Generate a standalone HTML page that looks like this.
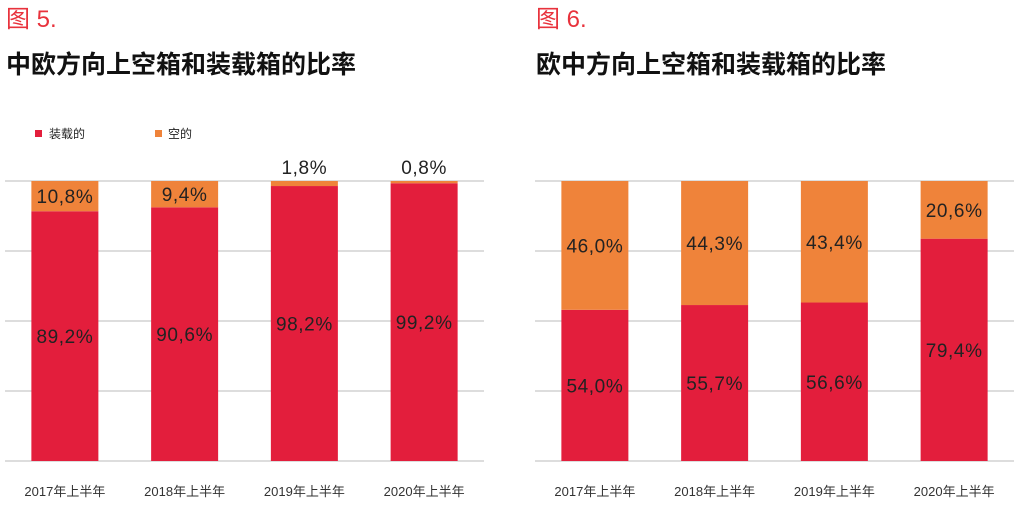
<!DOCTYPE html>
<html><head><meta charset="utf-8"><style>
body{margin:0;background:#fff;width:1022px;height:509px;overflow:hidden;font-family:"Liberation Sans","Noto Sans CJK SC",sans-serif}
svg text{font-family:"Liberation Sans","Noto Sans CJK SC",sans-serif}
</style></head><body>
<svg id="s" width="1022" height="509">
<text x="6" y="27" font-size="24" font-weight="normal" fill="#e8323c">图 5.</text>
<text x="6" y="73" font-size="25" font-weight="bold" fill="#111">中欧方向上空箱和装载箱的比率</text>
<text x="536" y="27" font-size="24" font-weight="normal" fill="#e8323c">图 6.</text>
<text x="536" y="73" font-size="25" font-weight="bold" fill="#111">欧中方向上空箱和装载箱的比率</text>
<g>
<rect x="35" y="130" width="7" height="7" fill="#e31e3c"/>
<text x="49" y="138" font-size="12" fill="#222">装载的</text>
<rect x="155" y="130" width="7" height="7" fill="#ef833a"/>
<text x="168" y="138" font-size="12" fill="#222">空的</text>
</g>
</svg>
<script>
const categories=["2017年上半年","2018年上半年","2019年上半年","2020年上半年"];
const loaded1=[89.2,90.6,98.2,99.2];
const empty1=[10.8,9.4,1.8,0.8];
const loaded2=[54.0,55.7,56.6,79.4];
const empty2=[46.0,44.3,43.4,20.6];
const NS="http://www.w3.org/2000/svg";
const svg=document.getElementById('s');
function mk(t,a){const e=document.createElementNS(NS,t);for(const k in a)e.setAttribute(k,a[k]);svg.appendChild(e);return e;}
const fmt=v=>v.toFixed(1).replace('.',',')+'%';
function chart(x0,x1,loaded,empty,id){
  const top=181,bot=461;
  const y=v=>bot-(v/100)*(bot-top);
  const step=(x1-x0)/categories.length;
  for(let i=0;i<=4;i++){
    const g=mk('line',{x1:x0,x2:x1,y1:y(i*25),y2:y(i*25),stroke:'#ddd','stroke-width':2});
    
    
  }
  categories.forEach((c,i)=>{
    const cx=x0+step*(i+0.5),bw=67,bx=cx-bw/2;
    const r=mk('rect',{x:bx,y:y(loaded[i]),width:bw,height:bot-y(loaded[i]),fill:'#e31e3c'});
    
    
    const o=mk('rect',{x:bx,y:y(loaded[i]+empty[i]),width:bw,height:y(loaded[i])-y(loaded[i]+empty[i]),fill:'#ef833a'});
    
    
    const lt=mk('text',{x:cx,y:(y(loaded[i])+bot)/2+7,'font-size':19,'letter-spacing':0.6,'text-anchor':'middle',fill:'#222'});
    lt.textContent=fmt(loaded[i]);
    
    
    const small=empty[i]<5;
    const ey=small?y(loaded[i]+empty[i])-7:(y(loaded[i])+y(loaded[i]+empty[i]))/2+7;
    const et=mk('text',{x:cx,y:ey,'font-size':19,'letter-spacing':0.6,'text-anchor':'middle',fill:'#222'});
    et.textContent=fmt(empty[i]);
    
    
    const ct=mk('text',{x:cx,y:496,'font-size':13,'text-anchor':'middle',fill:'#333'});
    ct.textContent=c;
    
    
  });
}
chart(5,484,loaded1,empty1,'chart1');
chart(535,1014,loaded2,empty2,'chart2');
</script>
</body></html>
